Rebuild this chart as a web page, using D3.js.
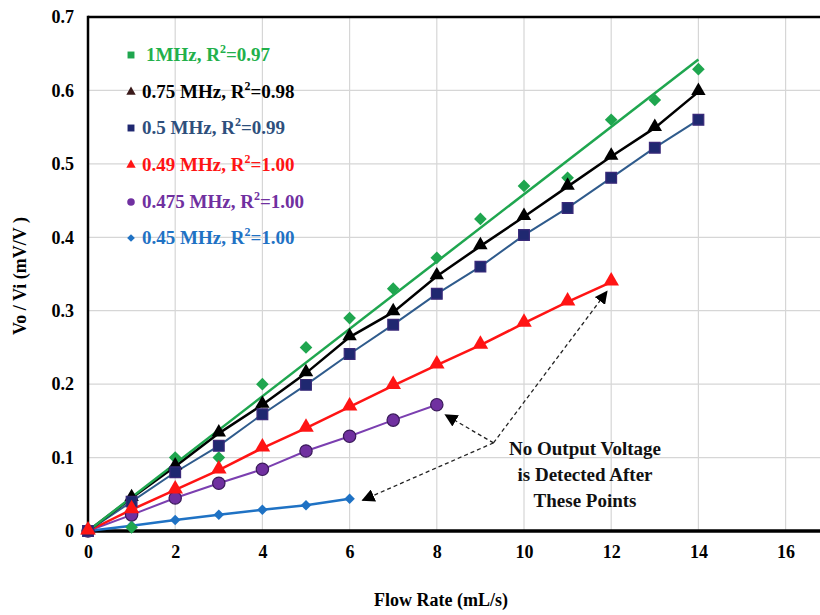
<!DOCTYPE html>
<html><head><meta charset="utf-8">
<script src="https://cdn.jsdelivr.net/npm/d3@7"></script>
<style>
body{margin:0;background:#fff}
svg text{font-family:"Liberation Serif","Times New Roman",serif;font-weight:bold}
</style>
</head><body>
<svg id="chart" width="820" height="615"></svg>
<script>
// ---------- data ----------
const flowRate = [0,1,2,3,4,5,6,7,8,9,10,11,12,13,14];
const s1MHz   = [0,0.005,0.10,0.10,0.20,0.25,0.29,0.33,0.372,0.425,0.47,0.481,0.56,0.587,0.629];
const s075MHz = [0,0.045,0.088,0.133,0.172,0.215,0.264,0.298,0.347,0.388,0.428,0.469,0.51,0.549,0.598];
const s05MHz  = [0,0.04,0.08,0.116,0.159,0.199,0.241,0.281,0.323,0.36,0.403,0.44,0.481,0.522,0.56];
const s049MHz = [0,0.029,0.056,0.083,0.113,0.14,0.169,0.198,0.226,0.253,0.283,0.312,0.339];
const s0475MHz= [0,0.022,0.045,0.065,0.084,0.109,0.129,0.151,0.172];
const s045MHz = [0,0.007,0.015,0.022,0.029,0.035,0.044];

const seriesNames = ["1MHz, R","0.75 MHz, R","0.5 MHz, R","0.49 MHz, R","0.475 MHz, R","0.45 MHz, R"];
const seriesR2 = ["0.97","0.98","0.99","1.00","1.00","1.00"];

const xTicks = [0,2,4,6,8,10,12,14,16];
const yTicks = [0,0.1,0.2,0.3,0.4,0.5,0.6,0.7];
const yTickLabels = ["0","0.1","0.2","0.3","0.4","0.5","0.6","0.7"];

const noteLines = ["No Output Voltage","is Detected After","These Points"];
const arrowFrom = [9.3, 0.12];
const arrowToX = [6.3, 8.2, 11.9];
const arrowToY = [0.042, 0.158, 0.326];

// ---------- setup ----------
const svg = d3.select("#chart");
const x = d3.scaleLinear().domain([0,18]).range([88, 88+18*43.6]);
const y = d3.scaleLinear().domain([0,0.7]).range([531, 17]);
const pLeft = 88, pRight = 820, pTop = 17, pBottom = 531;

const series = [
  {name:seriesNames[0], r2:seriesR2[0], vals:s1MHz,   color:"#1fa64f", line:"#1fa64f", text:"#22b04b", sym:"diamond", size:80, stroke:"none", lsym:"square", lw:2.5, trend:true},
  {name:seriesNames[1], r2:seriesR2[1], vals:s075MHz, color:"#000000", line:"#000000", text:"#000000", sym:"triangle", size:90, stroke:"none", lsym:"triangle", lw:2.5},
  {name:seriesNames[2], r2:seriesR2[2], vals:s05MHz,  color:"#1f2870", line:"#2f5b8c", text:"#2e4f7c", sym:"square", size:115, stroke:"#3a2a7a", lsym:"square", lw:2},
  {name:seriesNames[3], r2:seriesR2[3], vals:s049MHz, color:"#ff1414", line:"#ff1414", text:"#ff1414", sym:"triangle", size:105, stroke:"none", lsym:"triangle", lw:2.5},
  {name:seriesNames[4], r2:seriesR2[4], vals:s0475MHz,color:"#7030a0", line:"#7b3fb0", text:"#7030a0", sym:"circle", size:120, stroke:"#3a1a5a", lsym:"circle", lw:2},
  {name:seriesNames[5], r2:seriesR2[5], vals:s045MHz, color:"#1f72c4", line:"#1f72c4", text:"#1f72c4", sym:"diamond", size:55, stroke:"none", lsym:"diamond", lw:2.5}
];

function symPath(sym, size){
  const t = sym==="triangle"?d3.symbolTriangle:sym==="circle"?d3.symbolCircle:d3.symbolSquare;
  return d3.symbol().type(t).size(size)();
}

// gridlines
const g = svg.append("g");
g.selectAll("line.vg").data(xTicks.filter(d=>d>0)).join("line")
  .attr("x1",d=>x(d)).attr("x2",d=>x(d)).attr("y1",pTop).attr("y2",pBottom)
  .attr("stroke","#d6d6d6").attr("stroke-width",1.2);
g.selectAll("line.hg").data(yTicks.filter(d=>d>0 && d<0.7)).join("line")
  .attr("x1",pLeft).attr("x2",pRight).attr("y1",d=>y(d)).attr("y2",d=>y(d))
  .attr("stroke","#d6d6d6").attr("stroke-width",1.2);

// border top
svg.append("line").attr("x1",pLeft).attr("x2",pRight).attr("y1",pTop).attr("y2",pTop).attr("stroke","#000").attr("stroke-width",2.5);

// axes
const xAxis = svg.append("g").attr("transform",`translate(0,${pBottom})`)
  .call(d3.axisBottom(x).tickValues(xTicks).tickSize(0).tickPadding(14).tickFormat(d=>d));
xAxis.select(".domain").remove();
xAxis.selectAll("text").attr("font-size",18).attr("fill","#000");
svg.append("line").attr("x1",pLeft).attr("x2",pRight).attr("y1",pBottom).attr("y2",pBottom).attr("stroke","#000").attr("stroke-width",3.5);

const yAxis = svg.append("g").attr("transform",`translate(${pLeft},0)`)
  .call(d3.axisLeft(y).tickValues(yTicks).tickSize(0).tickPadding(14).tickFormat((d,i)=>yTickLabels[i]));
yAxis.select(".domain").remove();
yAxis.selectAll("text").attr("font-size",18).attr("fill","#000");
svg.append("line").attr("x1",pLeft).attr("x2",pLeft).attr("y1",pTop-1.2).attr("y2",pBottom).attr("stroke","#000").attr("stroke-width",2.5);

// axis titles
svg.append("text").attr("x",441).attr("y",606).attr("text-anchor","middle").attr("font-size",18).text("Flow Rate (mL/s)");
svg.append("text").attr("transform","translate(26,276) rotate(-90)").attr("text-anchor","middle").attr("font-size",18).text("Vo / Vi (mV/V )");

// lines
const plot = svg.append("g");
const line = d3.line().x(d=>x(d[0])).y(d=>y(d[1]));
series.slice().reverse().forEach(s=>{
  const pts = s.vals.map((v,i)=>[flowRate[i],v]);
  if(s.trend){
    const sxy = d3.sum(pts,p=>p[0]*p[1]), sxx = d3.sum(pts,p=>p[0]*p[0]);
    const k = sxy/sxx;
    const xmax = d3.max(pts,p=>p[0]);
    plot.append("path").datum([[0,0],[xmax,k*xmax]]).attr("d",line)
      .attr("fill","none").attr("stroke",s.line).attr("stroke-width",s.lw);
  } else {
    plot.append("path").datum(pts).attr("d",line)
      .attr("fill","none").attr("stroke",s.line).attr("stroke-width",s.lw);
  }
});
// markers (drawn so red ends on top at origin)
const drawOrder = [5,4,0,1,2,3];
drawOrder.forEach(idx=>{
  const s = series[idx];
  const pts = s.vals.map((v,i)=>[flowRate[i],v]);
  plot.selectAll(null).data(pts).join("path")
    .attr("d",symPath(s.sym==="diamond"?"square":s.sym, s.size))
    .attr("transform",d=>`translate(${x(d[0])},${y(d[1])})`+(s.sym==="diamond"?" rotate(45)":"")+(s.sym==="triangle"?" translate(0,-1)":""))
    .attr("fill",s.color).attr("stroke",s.stroke).attr("stroke-width",s.stroke==="none"?0:1.2);
});

// legend
const legY = [55,92,128,165,202,238];
series.forEach((s,i)=>{
  const lg = svg.append("g").attr("transform",`translate(131,${legY[i]})`);
  const ls = s.lsym;
  const sz = ls==="triangle"?38:ls==="circle"?45:ls==="diamond"?30:48;
  lg.append("path").attr("d",symPath(ls==="diamond"?"square":ls, sz))
    .attr("transform",ls==="diamond"?"rotate(45)":"")
    .attr("fill",i===1?"#3a1a1a":s.color);
  const t = lg.append("text").attr("x",ls==="square"&&i===0?15:11).attr("y",6).attr("font-size",19).attr("fill",s.text);
  t.append("tspan").text(s.name);
  t.append("tspan").attr("font-size",12).attr("dy",-8).text("2");
  t.append("tspan").attr("dy",8).text("="+s.r2);
});

// annotation arrows
const defs = svg.append("defs");
defs.append("marker").attr("id","ah").attr("viewBox","0 0 10 10").attr("refX",9).attr("refY",5)
  .attr("markerWidth",13).attr("markerHeight",13).attr("markerUnits","userSpaceOnUse")
  .attr("orient","auto")
  .append("path").attr("d","M0,0L10,5L0,10Z").attr("fill","#000");
arrowToX.forEach((tx,i)=>{
  svg.append("line").attr("x1",x(arrowFrom[0])).attr("y1",y(arrowFrom[1]))
    .attr("x2",x(tx)).attr("y2",y(arrowToY[i]))
    .attr("stroke","#222").attr("stroke-width",1.3).attr("stroke-dasharray","4,3")
    .attr("marker-end","url(#ah)");
});
noteLines.forEach((l,i)=>{
  svg.append("text").attr("x",x(11.4)).attr("y",y(0.113)+7+i*26).attr("text-anchor","middle")
    .attr("font-size",19).attr("fill","#111").text(l);
});
</script>
</body></html>
